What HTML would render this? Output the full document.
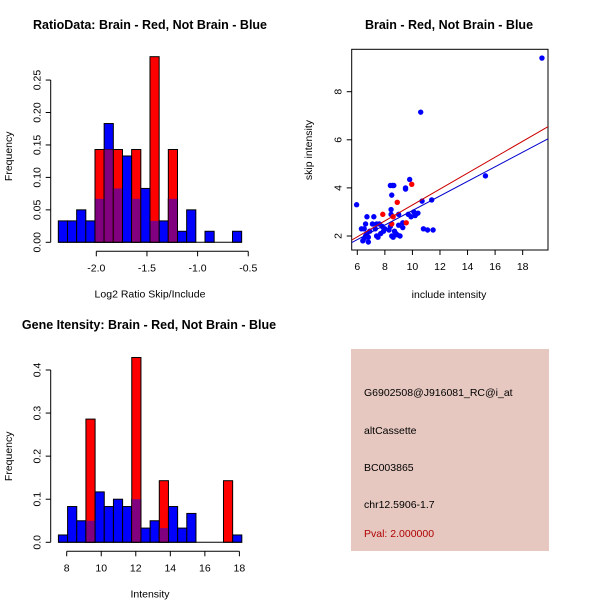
<!DOCTYPE html>
<html><head><meta charset="utf-8"><style>
body{margin:0;background:#fff}
svg{display:block;font-family:"Liberation Sans",Arial,sans-serif}
</style></head><body>
<svg id="chart" width="600" height="600" xmlns="http://www.w3.org/2000/svg">
<rect width="600" height="600" fill="#fff"/>
<text x="150" y="29" text-anchor="middle" font-size="12.5" font-weight="bold">RatioData: Brain - Red, Not Brain - Blue</text>
<text x="449" y="29" text-anchor="middle" font-size="12.5" font-weight="bold">Brain - Red, Not Brain - Blue</text>
<text x="149" y="329" text-anchor="middle" font-size="12.5" font-weight="bold">Gene Itensity: Brain - Red, Not Brain - Blue</text>
<g id="p1"></g>
<g id="p2"></g>
<g id="p3"></g>
<g font-size="10.5">
<rect x="351" y="349" width="198" height="202" fill="#e6c8c0"/>
<text x="364" y="396">G6902508@J916081_RC@i_at</text>
<text x="364" y="434">altCassette</text>
<text x="364" y="471">BC003865</text>
<text x="364" y="508">chr12.5906-1.7</text>
<text x="364" y="537" fill="#b00000">Pval: 2.000000</text>
</g>
</svg>
<script>
// Ratio histogram data
const ratioBinStart = -2.375, ratioBinWidth = 0.0905;
const ratioBlue = [0.033,0.033,0.05,0.033,0.067,0.183,0.083,0.133,0.067,0.083,0.033,0.033,0.067,0.017,0.05,0,0.017,0,0,0.017];
const ratioRed  = [0,0,0,0,0.143,0.143,0.143,0,0.143,0,0.286,0,0.143,0,0,0,0,0,0,0];
const ratioXTicks = [-2.0,-1.5,-1.0,-0.5];
const ratioXLabels = ["-2.0","-1.5","-1.0","-0.5"];
const ratioYTicks = [0,0.05,0.10,0.15,0.20,0.25];
const ratioYLabels = ["0.00","0.05","0.10","0.15","0.20","0.25"];
// Intensity histogram data
const intBinStart = 7.52, intBinWidth = 0.531;
const intBlue = [0.017,0.083,0.05,0.05,0.117,0.083,0.1,0.083,0.1,0.033,0.05,0.033,0.083,0.033,0.067,0,0,0,0,0.017];
const intRed  = [0,0,0,0.286,0,0,0,0,0.429,0,0,0.143,0,0,0,0,0,0,0.143,0];
const intXTicks = [8,10,12,14,16,18];
const intYTicks = [0,0.1,0.2,0.3,0.4];
const intYLabels = ["0.0","0.1","0.2","0.3","0.4"];
// Scatter data
const blueX = [5.95,19.4,10.6,15.3,9.8,9.5,9.5,8.4,8.55,8.65,8.5,10.7,11.4,8.45,8.45,9.0,9.7,10.1,10.4,9.9,10.2,10.8,11.1,11.5,9.3,9.3,9.0,6.7,7.2,7.1,7.4,7.6,7.8,6.5,6.3,6.6,6.7,6.6,6.5,6.4,6.8,6.8,7.4,7.5,7.7,7.9,8.0,8.3,8.4,8.5,8.6,8.7,8.9,9.1,8.8,7.3,6.9];
const blueY = [3.3,9.4,7.15,4.5,4.35,4.0,3.95,4.1,4.1,4.1,3.7,3.45,3.5,3.1,2.9,2.9,2.9,3.0,2.95,2.8,2.85,2.3,2.25,2.25,2.55,2.35,2.45,2.8,2.8,2.5,2.5,2.5,2.4,2.3,2.3,2.5,2.1,2.0,1.9,1.8,1.75,1.95,2.0,1.95,2.1,2.2,2.3,2.25,2.4,2.0,1.95,2.2,2.05,2.0,2.1,2.3,2.2];
const redX = [7.85,8.9,9.95,8.6,9.55,8.5];
const redY = [2.9,3.4,4.15,2.8,2.55,2.5];
const redFit = [-0.02,0.331];
const blueFit = [0.03,0.303];
const scatXTicks = [6,8,10,12,14,16,18];
const scatYTicks = [2,4,6,8];

const NS="http://www.w3.org/2000/svg";
function mk(parent,tag,attrs,name){const e=document.createElementNS(NS,tag);for(const k in attrs)e.setAttribute(k,attrs[k]);


parent.appendChild(e);return e;}
function txt(parent,x,y,s,name,rot,anchor){const t=mk(parent,'text',{x:x,y:y,'font-size':10.5,'text-anchor':anchor||'middle'},name);if(rot)t.setAttribute('transform','rotate(-90 '+x+' '+y+')');t.textContent=s;return t;}

function hist(g,o){
  const sx=v=>o.x0+(v-o.xv0)*o.kx, sy=v=>o.y0-v*o.ky;
  o.blue.forEach((b,i)=>{
    const a=o.start+i*o.w, x1=sx(a), x2=sx(a+o.w), r=o.red[i];
    if(b>0) mk(g,'rect',{x:x1,y:sy(b),width:x2-x1,height:sy(0)-sy(b),fill:'#0000ff',stroke:'#000','stroke-width':1},'blue-bar');
    if(r>0){
      mk(g,'rect',{x:x1,y:sy(r),width:x2-x1,height:sy(0)-sy(r),fill:'#ff0000',stroke:'#000','stroke-width':1},'red-bar');
      const m=Math.min(r,b);
      if(m>0) mk(g,'rect',{x:x1+0.5,y:sy(m),width:x2-x1-1,height:sy(0)-sy(m)-0.5,fill:'#800080'},'overlap-bar');
    }
  });
  const a0=sx(o.start), a1=sx(o.start+o.w*o.blue.length);
  mk(g,'line',{x1:a0,y1:sy(0),x2:a1,y2:sy(0),stroke:'#000'},'baseline');
  mk(g,'line',{x1:o.yax,y1:sy(o.yt[0]),x2:o.yax,y2:sy(o.yt[o.yt.length-1]),stroke:'#000'},'y-axis');
  o.yt.forEach((v,i)=>{mk(g,'line',{x1:o.yax-5,y1:sy(v),x2:o.yax,y2:sy(v),stroke:'#000'},'y-tick');txt(g,o.yax-10,sy(v),o.yl[i],'y-tick-label',true);});
  const xa=o.y0+9;
  mk(g,'line',{x1:sx(o.xt[0]),y1:xa,x2:sx(o.xt[o.xt.length-1]),y2:xa,stroke:'#000'},'x-axis');
  o.xt.forEach((v,i)=>{mk(g,'line',{x1:sx(v),y1:xa,x2:sx(v),y2:xa+5,stroke:'#000'},'x-tick');txt(g,sx(v),xa+20,o.xl[i],'x-tick-label');});
  txt(g,(o.tx||150),o.y0+55,o.xlab,'x-axis-title');
  txt(g,12,o.y0-86,'Frequency','y-axis-title',true);
}
hist(document.getElementById('p1'),{x0:96.3,xv0:-2.0,kx:101.3,y0:242.3,ky:649,start:ratioBinStart,w:ratioBinWidth,blue:ratioBlue,red:ratioRed,yax:50.7,yt:ratioYTicks,yl:ratioYLabels,xt:ratioXTicks,xl:ratioXLabels,xlab:'Log2 Ratio Skip/Include'});
hist(document.getElementById('p3'),{x0:66.7,xv0:8,kx:17.27,y0:542.3,ky:430.8,start:intBinStart,w:intBinWidth,blue:intBlue,red:intRed,yax:50.7,yt:intYTicks,yl:intYLabels,xt:intXTicks,xl:intXTicks.map(String),xlab:'Intensity'});

(function(){
  const g=document.getElementById('p2');
  const L=351.7,R=548,T=49.3,B=250;
  const sx=v=>357.3+(v-6)*13.78, sy=v=>236-(v-2)*24.05;
  const inv=p=>(p-357.3)/13.78+6;
  mk(g,'rect',{x:L,y:T,width:R-L,height:B-T,fill:'none',stroke:'#000'},'plot-box');
  const cp=mk(g,'clipPath',{id:'clp'},'clip');mk(cp,'rect',{x:L,y:T,width:R-L,height:B-T},'clip-rect');
  const pts=mk(g,'g',{'clip-path':'url(#clp)'},'points');
  blueX.forEach((x,i)=>mk(pts,'circle',{cx:sx(x),cy:sy(blueY[i]),r:2.7,fill:'#0000ff'},'blue-point'));
  redX.forEach((x,i)=>mk(pts,'circle',{cx:sx(x),cy:sy(redY[i]),r:2.7,fill:'#ff0000'},'red-point'));
  const xa=inv(L),xb=inv(R);
  mk(pts,'line',{x1:L,y1:sy(redFit[0]+redFit[1]*xa),x2:R,y2:sy(redFit[0]+redFit[1]*xb),stroke:'#cc0000','stroke-width':1},'red-fit-line');
  mk(pts,'line',{x1:L,y1:sy(blueFit[0]+blueFit[1]*xa),x2:R,y2:sy(blueFit[0]+blueFit[1]*xb),stroke:'#0000cc','stroke-width':1},'blue-fit-line');
  scatXTicks.forEach(v=>{mk(g,'line',{x1:sx(v),y1:B,x2:sx(v),y2:B+5,stroke:'#000'},'x-tick');txt(g,sx(v),B+20,String(v),'x-tick-label');});
  scatYTicks.forEach(v=>{mk(g,'line',{x1:L-5,y1:sy(v),x2:L,y2:sy(v),stroke:'#000'},'y-tick');txt(g,L-10,sy(v),String(v),'y-tick-label',true);});
  txt(g,449,298,'include intensity','x-axis-title');
  txt(g,312,150,'skip intensity','y-axis-title',true);
})();
</script>
</body></html>
